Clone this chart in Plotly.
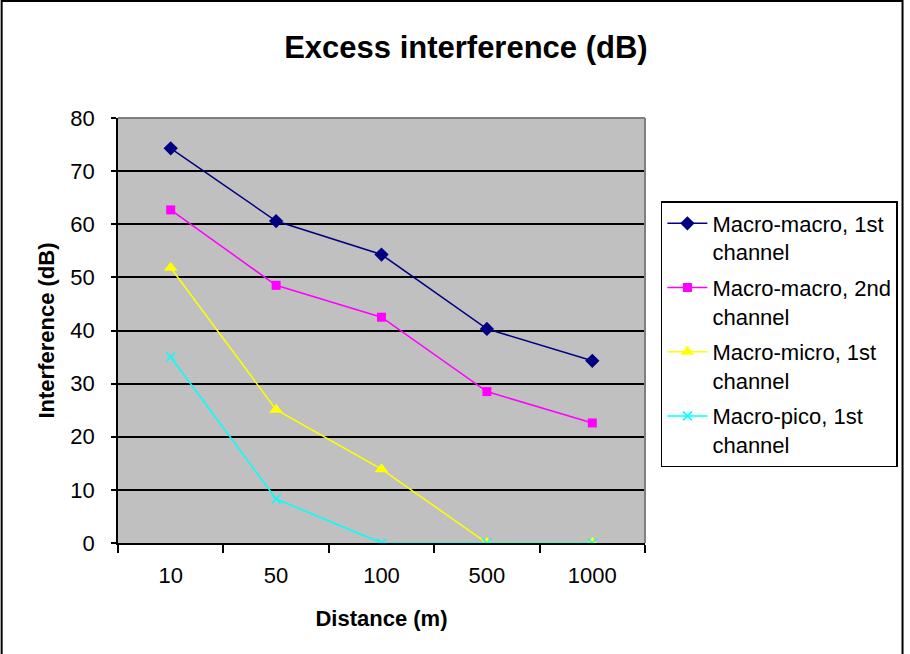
import plotly.graph_objects as go

distances = ["10", "50", "100", "500", "1000"]
macro_macro_1st = [74.3, 60.6, 54.3, 40.3, 34.3]
macro_macro_2nd = [62.7, 48.5, 42.5, 28.5, 22.6]
macro_micro_1st = [51.8, 25.1, 13.9, 0, 0]
macro_pico_1st = [35.0, 8.3, 0, 0, 0]

series_names = [
    "Macro-macro, 1st<br>channel",
    "Macro-macro, 2nd<br>channel",
    "Macro-micro, 1st<br>channel",
    "Macro-pico, 1st<br>channel",
]

FONT = "Liberation Sans, Arial, sans-serif"
FS = 22

fig = go.Figure()
fig.add_trace(go.Scatter(
    x=distances, y=macro_macro_1st, name=series_names[0], mode="lines+markers",
    legendgroup="a",
    line=dict(color="#000080", width=1.5),
    marker=dict(symbol="diamond", size=11, color="#000080")))
fig.add_trace(go.Scatter(
    x=distances, y=macro_macro_2nd, name=series_names[1], mode="lines+markers",
    legendgroup="b",
    line=dict(color="#FF00FF", width=1.5),
    marker=dict(symbol="square", size=9, color="#FF00FF")))
fig.add_trace(go.Scatter(
    x=distances, y=macro_micro_1st, name=series_names[2], mode="lines+markers",
    legendgroup="c",
    line=dict(color="#FFFF00", width=1.5),
    marker=dict(symbol="triangle-up", size=12, color="#FFFF00")))
fig.add_trace(go.Scatter(
    x=distances, y=macro_pico_1st, name=series_names[3], mode="lines+markers",
    legendgroup="d",
    line=dict(color="#00FFFF", width=1.5),
    marker=dict(symbol="x-thin-open", size=9, color="#00FFFF",
                line=dict(color="#00FFFF", width=1.5))))

# plot area: x 118..648, y 118..543
L, R, T, B = 118, 648, 118, 543
W, H = R - L, B - T

def px(x):
    return (x - L) / W

def py(y):
    return (B - y) / H

fig.update_layout(
    width=910, height=654,
    margin=dict(l=L, r=910 - R, t=T, b=654 - B),
    paper_bgcolor="white",
    plot_bgcolor="#C0C0C0",
    font=dict(family=FONT, size=FS, color="black"),
    title=dict(text="<b>Excess interference (dB)</b>", x=0.512, xanchor="center",
               y=1 - 47 / 654, yanchor="middle", font=dict(size=31, family=FONT)),
    showlegend=True,
    legend=dict(x=px(664), y=py(201), xanchor="left", yanchor="top",
                bordercolor="black", borderwidth=1.5, bgcolor="white",
                font=dict(size=FS, family=FONT), valign="top",
                tracegroupgap=4, itemwidth=40),
    xaxis=dict(
        type="category", range=[-0.5, 4.5],
        showline=True, linecolor="black", linewidth=1.5,
        ticks="outside", tickson="boundaries", ticklen=8, tickcolor="black", tickwidth=1.5,
        showgrid=False, ticklabelstandoff=12,
        title=dict(text="<b>Distance (m)</b>", font=dict(size=FS, family=FONT), standoff=23),
    ),
    yaxis=dict(
        range=[0, 80], dtick=10, tick0=0,
        showline=True, linecolor="black", linewidth=1.5,
        ticks="outside", ticklen=5, tickcolor="black", tickwidth=1.5,
        showgrid=True, gridcolor="black", gridwidth=1.5, zeroline=False,
        ticklabelstandoff=12,
        title=dict(text="<b>Interference (dB)</b>", font=dict(size=FS, family=FONT), standoff=10),
    ),
    shapes=[
        dict(type="line", xref="paper", yref="paper", x0=0, x1=1, y0=1, y1=1,
             line=dict(color="#808080", width=2)),
        dict(type="line", xref="paper", yref="paper", x0=1, x1=1, y0=0, y1=1,
             line=dict(color="#808080", width=2)),
        dict(type="rect", xref="paper", yref="paper",
             x0=px(1), x1=px(907), y0=py(1), y1=py(700),
             line=dict(color="black", width=2), fillcolor="rgba(0,0,0,0)"),
    ],
)

fig.write_html("out.html")
